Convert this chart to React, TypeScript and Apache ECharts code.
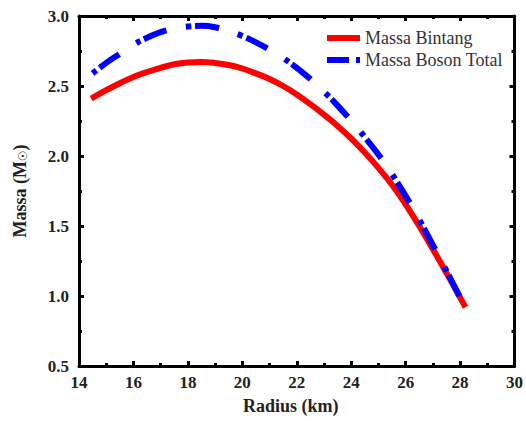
import React, { useEffect, useRef } from "react";
import * as echarts from "echarts";

const seriesNames = ["Massa Bintang", "Massa Boson Total"];

const bintangRadius = [14.45, 15.0, 15.5, 16.0, 16.5, 17.0, 17.5, 18.0, 18.5, 19.0, 19.5, 20.0, 20.5, 21.0, 21.5, 22.0, 22.5, 23.0, 23.5, 24.0, 24.5, 25.0, 25.5, 26.0, 26.5, 27.0, 27.5, 28.0, 28.2];
const bintangMass = [2.41, 2.47, 2.52, 2.565, 2.6, 2.63, 2.655, 2.668, 2.672, 2.665, 2.65, 2.625, 2.59, 2.55, 2.5, 2.44, 2.37, 2.295, 2.215, 2.125, 2.025, 1.915, 1.795, 1.655, 1.5, 1.335, 1.165, 0.99, 0.92];

const bosonRadius = [14.5, 15.0, 15.5, 16.0, 16.5, 17.0, 17.5, 18.0, 18.5, 19.0, 19.5, 20.0, 20.5, 21.0, 21.5, 22.0, 22.5, 23.0, 23.5, 24.0, 24.5, 25.0, 25.5, 26.0, 26.5, 27.0, 27.5, 28.0, 28.2];
const bosonMass = [2.59, 2.665, 2.73, 2.795, 2.845, 2.885, 2.91, 2.925, 2.93, 2.92, 2.893, 2.857, 2.812, 2.76, 2.7, 2.63, 2.55, 2.46, 2.36, 2.252, 2.135, 2.01, 1.87, 1.715, 1.545, 1.365, 1.18, 0.99, 0.915];

const xMin = 14, xMax = 30, xStep = 2;
const yMin = 0.5, yMax = 3.0, yStep = 0.5;

const FONT = "Liberation Serif";

export default function App() {
  const ref = useRef<HTMLDivElement>(null);
  useEffect(() => {
    if (!ref.current) return;
    const chart = echarts.init(ref.current, undefined, { renderer: "svg" });
    const zip = (xs: number[], ys: number[]) => xs.map((x, i) => [x, ys[i]]);
    const axisLine = { show: true, lineStyle: { color: "#000", width: 3 } };
    const axisTick = { show: true, inside: true, length: 5, lineStyle: { color: "#000", width: 3 } };
    const minorTick = { show: true, splitNumber: 2, length: 3, lineStyle: { color: "#000", width: 3 } };
    const labelStyle = { fontFamily: FONT, fontSize: 17, fontWeight: "bold", color: "#222" };
    chart.setOption({
      animation: false,
      backgroundColor: "#fff",
      grid: { left: 79, top: 16, right: 11, bottom: 55, containLabel: false },
      legend: {
        left: 319,
        top: 24,
        orient: "vertical",
        itemWidth: 33,
        itemHeight: 14,
        itemGap: 4,
        itemStyle: { opacity: 0 },
        textStyle: { fontFamily: FONT, fontSize: 18, color: "#333", lineHeight: 18 },
        data: [
          { name: seriesNames[0], lineStyle: { width: 6, color: "#ff0000" } },
          { name: seriesNames[1], lineStyle: { width: 6, color: "#0000ff", type: [22, 7, 4, 20] } },
        ],
      },
      xAxis: [
        {
          type: "value", min: xMin, max: xMax, interval: xStep, position: "bottom",
          axisLine, axisTick, minorTick, splitLine: { show: false },
          axisLabel: { ...labelStyle, margin: 8 },
          name: "Radius (km)", nameLocation: "middle", nameGap: 31,
          nameTextStyle: { fontFamily: FONT, fontSize: 18, fontWeight: "bold", color: "#222", padding: [0, 12, 0, 0] },
        },
        {
          type: "value", min: xMin, max: xMax, interval: xStep, position: "top",
          axisLine, axisTick, minorTick, splitLine: { show: false }, axisLabel: { show: false },
        },
      ],
      yAxis: [
        {
          type: "value", min: yMin, max: yMax, interval: yStep, position: "left",
          axisLine, axisTick, minorTick, splitLine: { show: false },
          axisLabel: { ...labelStyle, margin: 10, formatter: (v: number) => v.toFixed(1) },
          name: "Massa (M{s|☉})", nameLocation: "middle", nameGap: 50,
          nameTextStyle: {
            fontFamily: FONT, fontSize: 18, fontWeight: "bold", color: "#222",
            rich: { s: { fontFamily: "DejaVu Sans", fontSize: 12, color: "#222", verticalAlign: "bottom", padding: [6, 0, 0, 0] } },
          },
        },
        {
          type: "value", min: yMin, max: yMax, interval: yStep, position: "right",
          axisLine, axisTick, minorTick, splitLine: { show: false }, axisLabel: { show: false },
        },
      ],
      series: [
        {
          name: seriesNames[0], type: "line", xAxisIndex: 0, yAxisIndex: 0,
          data: zip(bintangRadius, bintangMass), smooth: 0.4, showSymbol: false, symbol: "none",
          color: "#ff0000",
          lineStyle: { color: "#ff0000", width: 6, cap: "butt" },
          z: 2,
        },
        {
          name: seriesNames[1], type: "line", xAxisIndex: 0, yAxisIndex: 0,
          data: zip(bosonRadius, bosonMass), smooth: 0.4, showSymbol: false, symbol: "none",
          color: "#0000ff",
          lineStyle: { color: "#0000ff", width: 6, type: [5, 4, 24, 20], cap: "butt" },
          z: 3,
        },
      ],
    });
    return () => chart.dispose();
  }, []);
  return <div ref={ref} style={{ width: 526, height: 421, position: "absolute", left: 0, top: 0 }} />;
}
